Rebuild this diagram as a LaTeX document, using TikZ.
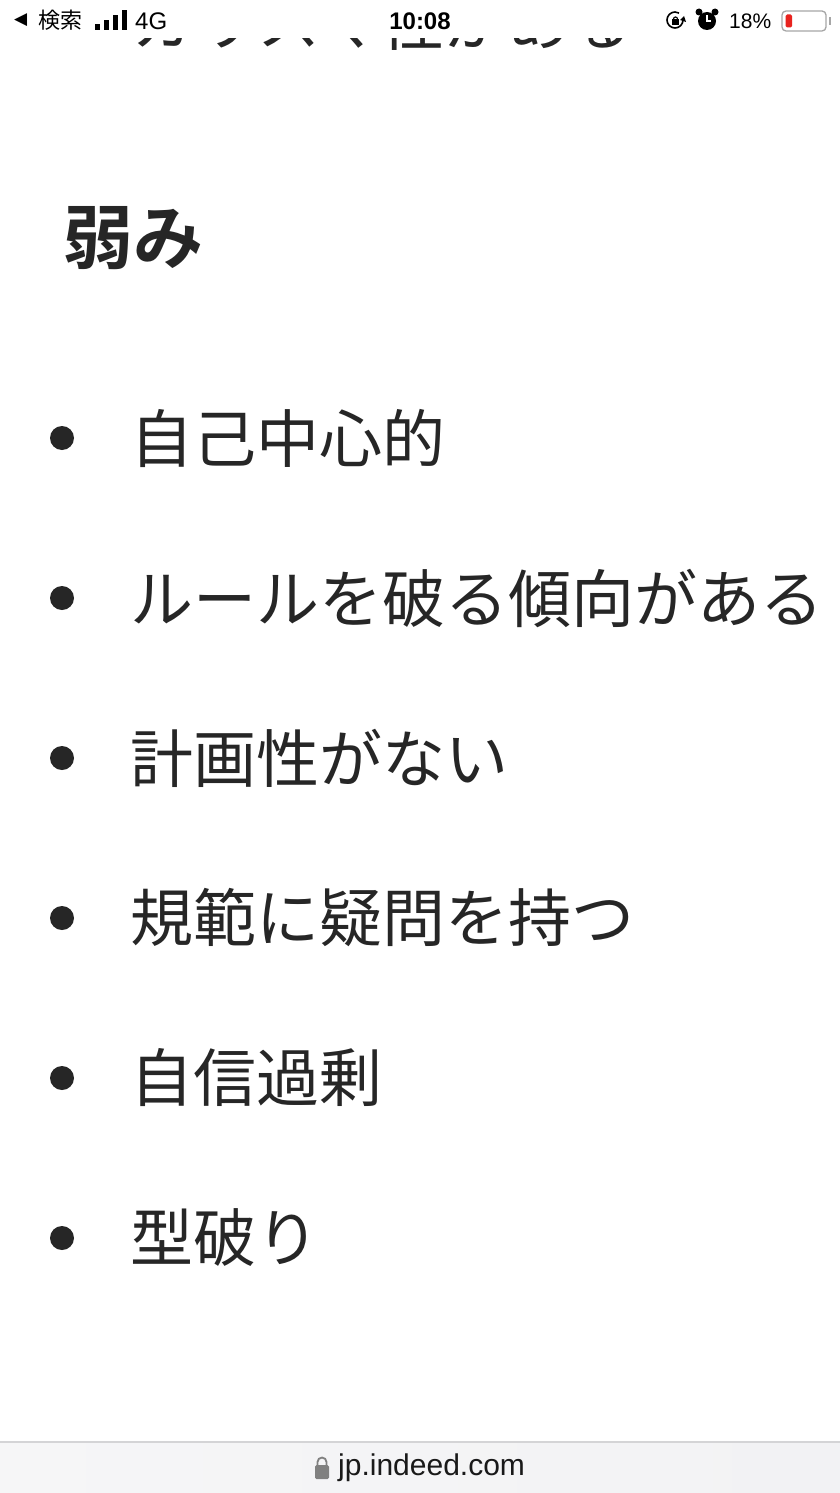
\documentclass[tikz,border=0pt]{standalone}
\usepackage{fontspec}
\setmainfont{Liberation Sans}
\newfontfamily\cjk{Noto Sans CJK JP}
\newfontfamily\cjkbold{Noto Sans CJK JP Bold}
\newfontfamily\sym{DejaVu Sans}
\definecolor{ink}{HTML}{262626}
\definecolor{barbg}{HTML}{F2F2F4}
\definecolor{barline}{HTML}{D4D4D6}
\definecolor{lowbat}{HTML}{E8231E}

\begin{document}
\begin{tikzpicture}[x=1pt, y=-1pt]
\tikzset{punkt/.style={fill=ink, circle, inner sep=0pt, minimum size=24pt},
         eintrag/.style={anchor=west, inner sep=0pt, text=ink, font=\cjk\fontsize{63}{63}\selectfont},
         status/.style={inner sep=0pt, text=black}}
\useasboundingbox (0,0) rectangle (840,1493);
\fill[white] (0,0) rectangle (840,1493);
% cut text under the status bar
\begin{scope}
\clip (0,39) rectangle (840,1442);
\node[eintrag, anchor=base west] (Vorher) at (131,46) {カリスマ性がある};
\end{scope}
% heading
\node[inner sep=0pt, anchor=west, text=ink, font=\cjkbold\fontsize{70}{70}\selectfont] (Titel) at (63,238) {弱み};
% list
\node[punkt] (P1) at (62,438) {};
\node[eintrag] (E1) at (130,438) {自己中心的};
\node[punkt] (P2) at (62,598) {};
\node[eintrag] (E2) at (130,598) {ルールを破る傾向がある};
\node[punkt] (P3) at (62,758) {};
\node[eintrag] (E3) at (130,758) {計画性がない};
\node[punkt] (P4) at (62,918) {};
\node[eintrag] (E4) at (130,918) {規範に疑問を持つ};
\node[punkt] (P5) at (62,1078) {};
\node[eintrag] (E5) at (130,1078) {自信過剰};
\node[punkt] (P6) at (62,1238) {};
\node[eintrag] (E6) at (130,1238) {型破り};
% status bar
\node[status, anchor=west, font=\sym\fontsize{17}{17}\selectfont] (Zurueck) at (14,20) {◀};
\node[status, anchor=west, font=\cjk\fontsize{22}{22}\selectfont] (Suche) at (38,20) {検索};
\fill[black] (95,24) rectangle (100,30);
\fill[black] (104,20) rectangle (109,30);
\fill[black] (113,15) rectangle (118,30);
\fill[black] (122,10) rectangle (127,30);
\node[status, anchor=west, font=\fontsize{24}{24}\selectfont] (Netz) at (135,21) {4G};
\node[status, font=\bfseries\fontsize{24}{24}\selectfont] (Zeit) at (420,21) {10:08};
\draw[line width=1.6pt] (683,20) arc (0:300:8);
\fill[black] (684,16) -- (686,22) -- (680,20) -- cycle;
\fill[black] (672,19) rectangle (679,25);
\draw[line width=1.2pt] (673.5,19) arc (180:360:2);
\fill[black] (707,21) circle (9);
\fill[black] (699,12) circle (3.5);
\fill[black] (715,12) circle (3.5);
\draw[white, line width=1.5pt] (707,15) -- (707,21) -- (711,21);
\node[status, anchor=west, font=\fontsize{21}{21}\selectfont] (Akku) at (729,21) {18\%};
\draw[gray!70, line width=1.3pt, rounded corners=4pt] (782,11) rectangle (826,31);
\fill[lowbat, rounded corners=1.5pt] (785.5,14.5) rectangle (792,27.5);
\fill[gray!70] (828.5,17) rectangle (830.5,25);
% address bar
\shade[left color=barbg!70, right color=barbg] (0,1443) rectangle (840,1493);
\draw[barline, line width=1.5pt] (0,1442) -- (840,1442);
\fill[gray, rounded corners=1.5pt] (315,1465) rectangle (329,1479);
\draw[gray, line width=1.8pt] (317.5,1466) -- (317.5,1462) arc (180:360:4.5) -- (326.5,1466);
\node[status, anchor=west, text=black!90, font=\fontsize{30}{30}\selectfont] (Adresse) at (338,1468) {jp.indeed.com};
\end{tikzpicture}
\end{document}
